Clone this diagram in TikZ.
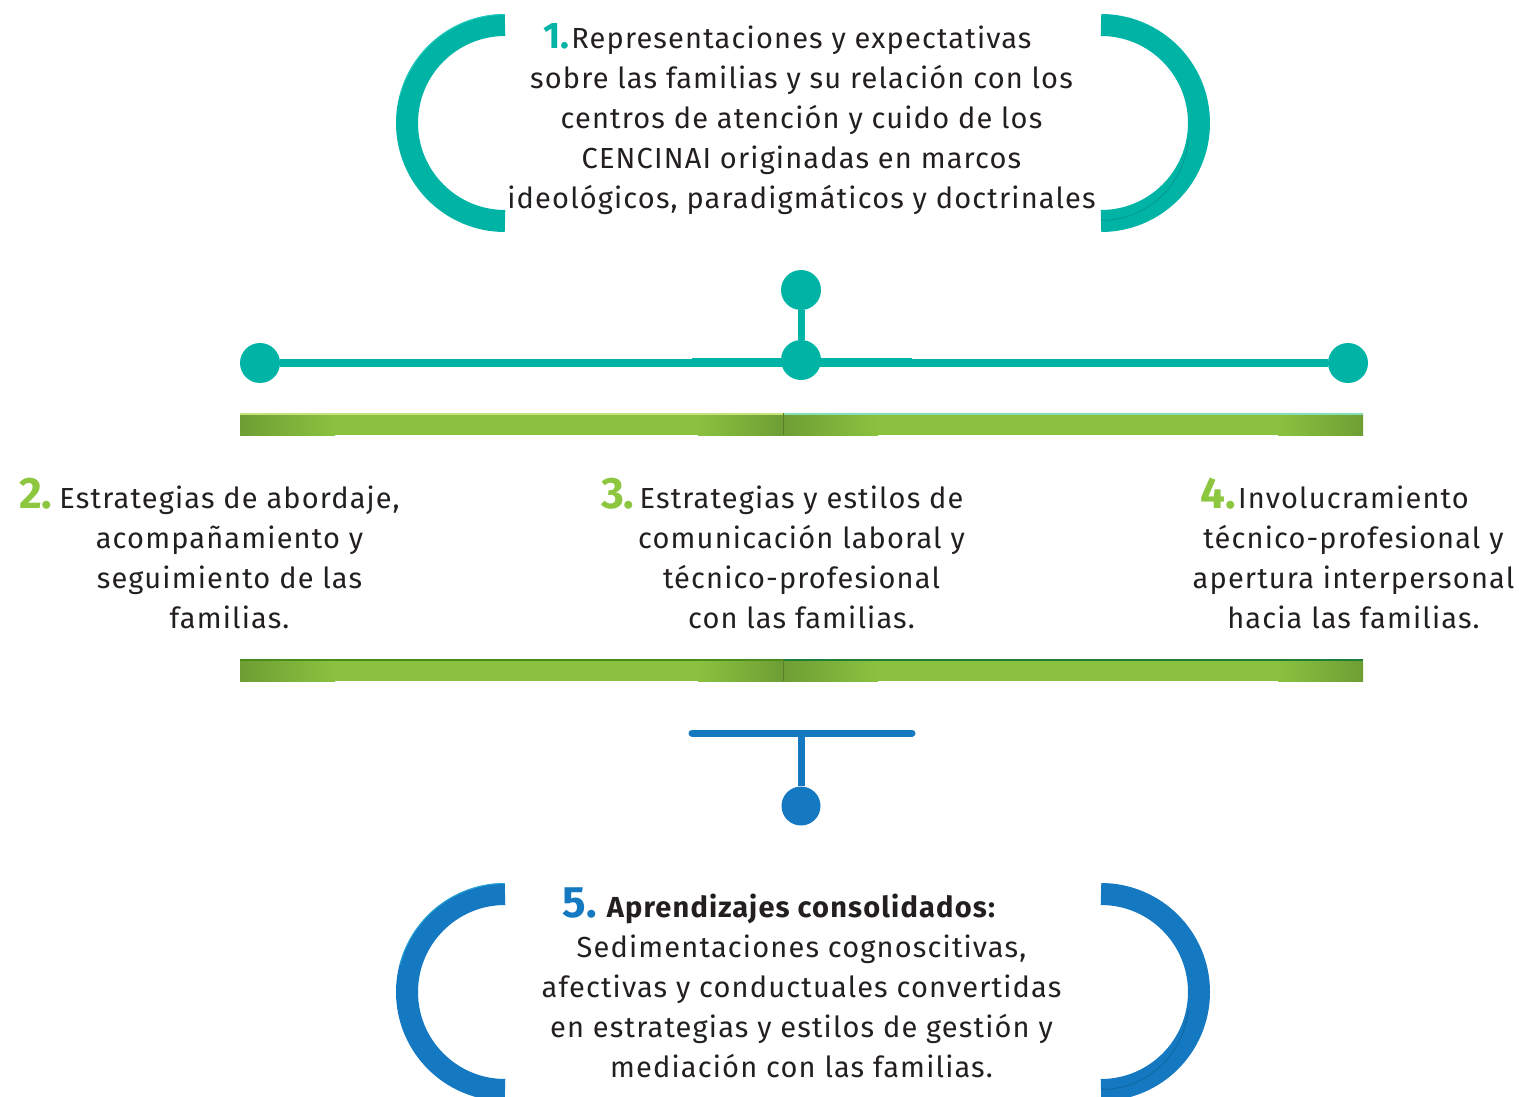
\documentclass[tikz,border=0pt]{standalone}
\usepackage{fontspec}
\setmainfont{Fira Sans}[LetterSpace=4]
\newfontfamily\numfont{Fira Sans}
\usetikzlibrary{backgrounds}

\definecolor{tealc}{HTML}{00B4A5}
\definecolor{tealdark}{HTML}{00938A}
\definecolor{teallight}{HTML}{2CD2C6}
\definecolor{bluec}{HTML}{1479C1}
\definecolor{bluedark}{HTML}{0D6398}
\definecolor{bluelight}{HTML}{27B6DE}
\definecolor{greennum}{HTML}{8DC63F}
\definecolor{barlight}{HTML}{8AC23F}
\definecolor{bardark}{HTML}{6E9E34}
\definecolor{barhiA}{HTML}{C6E27A}
\definecolor{barhiB}{HTML}{86DFB4}
\definecolor{barloA}{HTML}{4A8C1C}
\definecolor{barloB}{HTML}{1F7E3A}
\definecolor{ink}{HTML}{231F20}

\newcommand\numlabel[3]{{\color{#1}\numfont\fontsize{#2}{40}\selectfont\bfseries #3}}

\tikzset{
  ring/.style={line width=22pt, #1},
  tdot/.style={circle, fill=#1, minimum size=40pt, inner sep=0pt},
  body/.style={align=center, text=ink, inner sep=0pt,
               font=\fontsize{29}{40}\selectfont},
  link/.style={line width=8pt, #1},
  edgeshade/.style={line width=1pt, draw opacity=0.7, #1},
}

% one green band between x=#1 and x=#2, top at #3, with top edge colour #4
\newcommand\bandpart[4]{%
  \shade[left color=bardark, right color=barlight] (#1,#3) rectangle (#1+95,#3+22);
  \fill[barlight] (#1+94,#3) rectangle (#2-84,#3+22);
  \shade[left color=barlight, right color=bardark] (#2-85,#3) rectangle (#2,#3+22);
  \fill[#4] (#1,#3) rectangle (#2,#3+2);
}

\begin{document}
\begin{tikzpicture}[x=1pt, y=-1pt]
  \useasboundingbox (0,0) rectangle (1519,1097);
  \clip (0,0) rectangle (1519,1097);

  % ---- opening and closing rings around the first block
  \draw[ring=tealc] (505,25) arc[start angle=270, end angle=90, radius=98];
  \draw[ring=tealc] (1101,25) arc[start angle=270, end angle=450, radius=98];
  \draw[edgeshade=teallight] (505,14.5) arc[start angle=270, end angle=195, radius=108.5];
  \draw[edgeshade=tealdark] (1101,220.5) arc[start angle=90, end angle=5, radius=87.5];

  % ---- timeline with its four points
  \node[tdot=tealc] (top) at (801,290) {};
  \node[tdot=tealc] (mid) at (801,360) {};
  \node[tdot=tealc] (left) at (260,363) {};
  \node[tdot=tealc] (right) at (1348,363) {};
  \begin{scope}[on background layer]
    \draw[link=tealc] (left) -- (right);
    \draw[link=tealc, line width=7pt] (top) -- (mid);
    \fill[tealc] (692,358) rectangle (912,367);
  \end{scope}

  % ---- green bands
  \bandpart{240}{783}{413}{barhiA}
  \bandpart{783}{1363}{413}{barhiB}
  \draw[bardark!80!black, line width=1pt] (783,413) -- (783,435);
  \bandpart{240}{783}{659}{barloA}
  \bandpart{783}{1363}{659}{barloB}
  \draw[bardark!80!black, line width=1pt] (783,659) -- (783,681);

  % ---- blue connector to the last block
  \coordinate (barL) at (692,733);
  \coordinate (barR) at (912,733);
  \coordinate (barM) at (801,733);
  \node[tdot=bluec, minimum size=39pt] (bdot) at (801,806) {};
  \begin{scope}[on background layer]
    \draw[link=bluec, line width=7pt, line cap=round] (barL) -- (barR);
    \draw[link=bluec, line width=7pt] (barM) -- (bdot);
  \end{scope}

  % ---- rings around the last block
  \draw[ring=bluec] (505,894) arc[start angle=270, end angle=90, radius=98];
  \draw[ring=bluec] (1101,894) arc[start angle=270, end angle=450, radius=98];
  \draw[edgeshade=bluelight] (505,883.5) arc[start angle=270, end angle=195, radius=108.5];
  \draw[edgeshade=bluedark] (1101,1089.5) arc[start angle=90, end angle=5, radius=87.5];

  % ---- texts
  \node[body, anchor=north] (t1) at (801.5,23)
    {\llap{\numlabel{tealc}{37}{1.}\hspace{2pt}}Representaciones y expectativas\\
     sobre las familias y su relación con los\\
     centros de atención y cuido de los\\
     CENCINAI originadas en marcos\\
     ideológicos, paradigmáticos y doctrinales};

  \node[body, anchor=north] (t2) at (229.5,478)
    {\llap{\numlabel{greennum}{44}{2.}\hspace{7pt}}Estrategias de abordaje,\\
     acompañamiento y\\
     seguimiento de las\\
     familias.};

  \node[body, anchor=north] (t3) at (801.5,478)
    {\llap{\numlabel{greennum}{44}{3.}\hspace{5pt}}Estrategias y estilos de\\
     comunicación laboral y\\
     técnico-profesional\\
     con las familias.};

  \node[body, anchor=north] (t4) at (1353.5,478)
    {\llap{\numlabel{greennum}{44}{4.}\hspace{2pt}}Involucramiento\\
     técnico-profesional y\\
     apertura interpersonal\\
     hacia las familias.};

  \node[body, anchor=north] (t5) at (801.5,888)
    {\llap{\numlabel{bluec}{44}{5.}\hspace{10pt}}\textbf{Aprendizajes consolidados:}\\
     Sedimentaciones cognoscitivas,\\
     afectivas y conductuales convertidas\\
     en estrategias y estilos de gestión y\\
     mediación con las familias.};
\end{tikzpicture}
\end{document}
